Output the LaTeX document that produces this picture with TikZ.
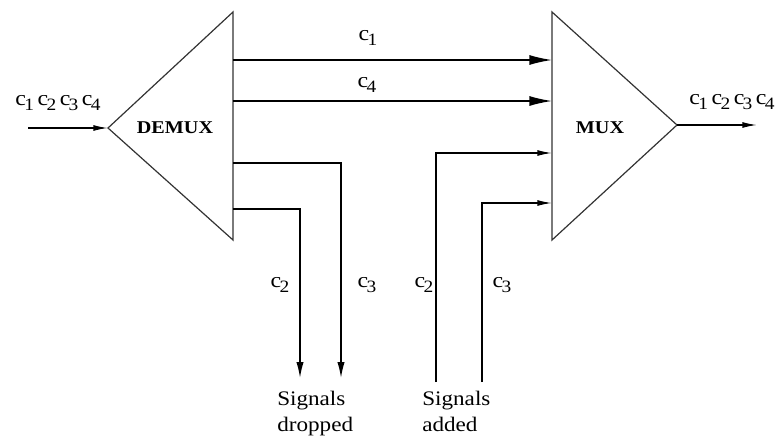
\documentclass[tikz,border=0pt]{standalone}
\usepackage{fontspec}
\setmainfont{Liberation Serif}[FakeStretch=1.12]
\usetikzlibrary{arrows.meta}
\newcommand\chan[1]{c\kern-0.08em\raisebox{-0.6ex}{\fontsize{13}{13}\selectfont #1}}
\tikzset{
  wire/.style={line width=1.1pt, black},
  bigarrow/.style={wire, -{Latex[length=17pt, width=7.5pt]}},
  smallarrow/.style={wire, -{Latex[length=11pt, width=4.5pt]}},
  downarrow/.style={wire, -{Latex[length=12pt, width=5.5pt]}},
  box/.style={line width=0.9pt, draw=black!80, line join=miter},
  lab/.style={font=\fontsize{16}{17}\selectfont, inner sep=0pt},
  devlab/.style={font=\fontsize{13.5}{14}\selectfont\bfseries, inner sep=0pt},
  sig/.style={font=\fontsize{15.5}{19.5}\selectfont, inner sep=0pt, align=left, anchor=north west},
}
\begin{document}
\begin{tikzpicture}[x=0.75pt, y=-0.75pt]
\useasboundingbox (0,0) rectangle (778,446);
% DEMUX triangle
\coordinate (dA) at (108,128);
\coordinate (dT) at (233,12);
\coordinate (dB) at (233,240);
\draw[box] (dA) -- (dT) -- (dB) -- cycle;
\node[devlab] (demux) at (175,128) {DEMUX};
% MUX triangle
\coordinate (mA) at (677,125);
\coordinate (mT) at (552,12);
\coordinate (mB) at (552,240);
\draw[box] (mA) -- (mT) -- (mB) -- cycle;
\node[devlab] (mux) at (600,128) {MUX};
% ports
\coordinate (d1) at (233,60);
\coordinate (d4) at (233,101);
\coordinate (d2) at (233,163);
\coordinate (d3) at (233,209);
\coordinate (m1) at (552,60);
\coordinate (m4) at (552,101);
\coordinate (m2) at (552,153);
\coordinate (m3) at (552,203);
% input/output
\coordinate (in) at (28,128);
\coordinate (out) at (757,125);
\draw[smallarrow] (in) -- (dA);
\draw[smallarrow] (mA) -- (out);
\node[lab] (inlab) at (58,103) {\chan1\,\chan2\,\chan3\,\chan4};
\node[lab] (outlab) at (732,102) {\chan1\,\chan2\,\chan3\,\chan4};
% through channels
\draw[bigarrow] (d1) -- (m1);
\draw[bigarrow] (d4) -- (m4);
\node[lab] (c1lab) at (368,38) {\chan1};
\node[lab] (c4lab) at (367,85) {\chan4};
% dropped
\coordinate (drop2) at (300,378);
\coordinate (drop3) at (341,378);
\draw[downarrow] (d3) -| (drop2);
\draw[downarrow] (d2) -| (drop3);
\node[lab] (dc2) at (280,285) {\chan2};
\node[lab] (dc3) at (367,285) {\chan3};
% added
\coordinate (add2) at (436,382);
\coordinate (add3) at (482,382);
\draw[smallarrow] (add2) |- (m2);
\draw[smallarrow] (add3) |- (m3);
\node[lab] (ac2) at (424,285) {\chan2};
\node[lab] (ac3) at (502,285) {\chan3};
% captions
\node[sig] (dropped) at (277,391) {Signals\\dropped};
\node[sig] (added) at (422,391) {Signals\\added};
\end{tikzpicture}
\end{document}
